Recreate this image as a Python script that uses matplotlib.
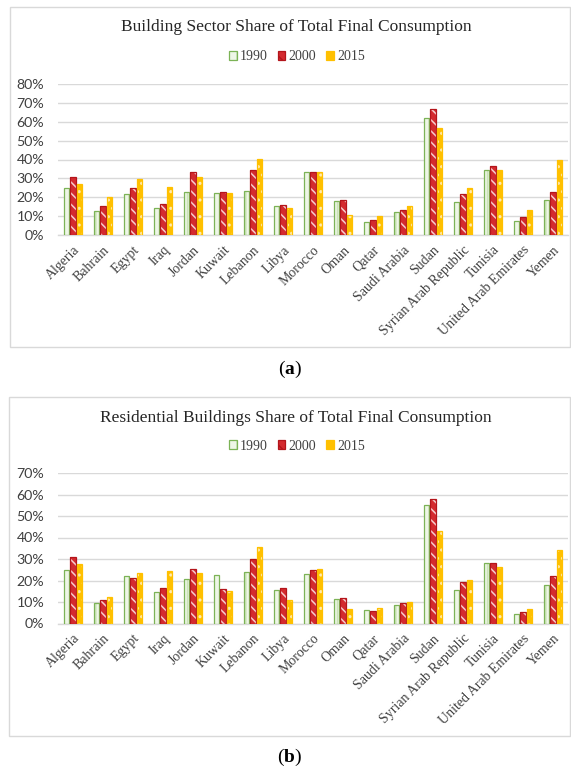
import matplotlib
matplotlib.use("Agg")
import matplotlib.pyplot as plt
from matplotlib.patches import Rectangle, Patch
from matplotlib.ticker import PercentFormatter
import numpy as np

countries = ["Algeria", "Bahrain", "Egypt", "Iraq", "Jordan", "Kuwait", "Lebanon",
             "Libya", "Morocco", "Oman", "Qatar", "Saudi Arabia", "Sudan",
             "Syrian Arab Republic", "Tunisia", "United Arab Emirates", "Yemen"]
years = ["1990", "2000", "2015"]

# Building sector share of total final consumption (%)
building_1990 = [24.7, 12.9, 21.7, 14.1, 22.6, 22.3, 23.5, 15.4, 33.6, 18.0, 7.1, 12.2, 62.0, 17.7, 34.5, 7.6, 18.6]
building_2000 = [30.6, 15.4, 25.1, 16.4, 33.2, 22.6, 34.3, 16.1, 33.5, 18.6, 8.0, 13.3, 67.0, 21.9, 36.7, 9.7, 22.6]
building_2015 = [27.2, 20.3, 29.9, 25.3, 30.7, 22.3, 40.3, 14.1, 33.6, 10.8, 10.1, 15.5, 56.7, 24.9, 34.6, 13.1, 39.8]

# Residential buildings share of total final consumption (%)
resid_1990 = [24.9, 9.7, 21.9, 14.7, 20.7, 22.6, 24.1, 15.6, 22.9, 11.6, 6.3, 8.7, 54.9, 15.4, 28.3, 4.3, 18.1]
resid_2000 = [31.1, 10.8, 21.3, 16.7, 25.2, 15.9, 30.0, 16.3, 24.7, 12.0, 5.8, 9.5, 57.7, 19.4, 28.3, 5.5, 22.3]
resid_2015 = [27.5, 12.2, 23.6, 24.4, 23.6, 15.0, 35.5, 11.0, 25.5, 6.7, 7.2, 9.9, 43.0, 20.3, 26.4, 6.7, 34.2]

serif = "Liberation Serif"
sans = "Lato"

plt.rcParams["hatch.linewidth"] = 1.1
plt.rcParams["mathtext.fontset"] = "custom"
plt.rcParams["mathtext.rm"] = serif
plt.rcParams["mathtext.bf"] = serif + ":bold"

styles = [
    dict(face="#eef6e7", edge="#7cb356", hatch="||", hatch_col="#cbe4b8"),
    dict(face="#d42a2f", edge="#b3151b", hatch="\\\\\\", hatch_col="#f6d0d0"),
    dict(face="#ffc000", edge="#ffc000", hatch="..", hatch_col="#ffeab0"),
]

W, H = 571, 771
fig = plt.figure(figsize=(W / 100, H / 100), dpi=100)


def px_box(x0, y0, x1, y1):
    return [x0 / W, 1 - y1 / H, (x1 - x0) / W, (y1 - y0) / H]


def draw_panel(ax_rect, frame, series, ymax, title, title_y, legend_cx, legend_y, tag, tag_y):
    fx0, fy0, fx1, fy1 = frame
    fig.patches.append(Rectangle((fx0 / W, 1 - fy1 / H), (fx1 - fx0) / W, (fy1 - fy0) / H,
                                 transform=fig.transFigure, fill=False,
                                 edgecolor="#d9d9d9", linewidth=1.0))
    ax = fig.add_axes(ax_rect)
    x = np.arange(len(countries))
    bw = 0.19
    step = 0.215
    for i, (vals, st) in enumerate(zip(series, styles)):
        pos = x + (i - 1) * step
        ax.bar(pos, vals, width=bw, color=st["face"], edgecolor=st["hatch_col"],
               hatch=st["hatch"], linewidth=0, zorder=3)
        ax.bar(pos, vals, width=bw, fill=False, edgecolor=st["edge"],
               linewidth=0.9, zorder=4)
    ax.set_xlim(-0.5, len(countries) - 0.5)
    ax.set_ylim(0, ymax)
    ax.set_yticks(np.arange(0, ymax + 1, 10))
    ax.yaxis.set_major_formatter(PercentFormatter(decimals=0))
    ax.grid(axis="y", color="#d9d9d9", linewidth=1.0, zorder=0)
    ax.set_axisbelow(True)
    for s in ["top", "right", "left"]:
        ax.spines[s].set_visible(False)
    ax.spines["bottom"].set_color("#d9d9d9")
    ax.spines["bottom"].set_linewidth(1.0)
    ax.tick_params(axis="both", length=0)
    ax.tick_params(axis="y", labelsize=10.2, labelcolor="#404040", pad=10)
    for lab in ax.get_yticklabels():
        lab.set_fontfamily(sans)
    ax.set_xticks(x)
    ax.set_xticklabels(countries, rotation=45, ha="right", va="top",
                       rotation_mode="anchor", fontfamily=serif, fontsize=10,
                       color="#404040")
    ax.tick_params(axis="x", pad=6)

    fig.text(296 / W, 1 - title_y / H, title, ha="center", va="center",
             fontfamily=serif, fontsize=12.5, color="#262626")
    handles = [Patch(facecolor=st["face"], edgecolor=st["edge"], hatch=st["hatch"],
                     linewidth=0.9) for st in styles]
    leg = fig.legend(handles, years, loc="center", bbox_to_anchor=(legend_cx / W, 1 - legend_y / H),
                     ncol=3, frameon=False, handlelength=0.55, handleheight=0.55,
                     handletextpad=0.25, columnspacing=0.7,
                     prop=dict(family=serif, size=10))
    for t in leg.get_texts():
        t.set_color("#404040")
    fig.text(290 / W, 1 - tag_y / H, r"($\mathbf{" + tag + "}$)", ha="center", va="center",
             fontfamily=serif, fontsize=14)
    return ax


draw_panel(px_box(58, 84, 568, 235), (10, 7, 570, 347),
           [building_1990, building_2000, building_2015], 80,
           "Building Sector Share of Total Final Consumption", 27, 297, 57, "a", 369)
draw_panel(px_box(58, 473, 568, 623.5), (9, 397, 570, 736),
           [resid_1990, resid_2000, resid_2015], 70,
           "Residential Buildings Share of Total Final Consumption", 418, 297, 446, "b", 757)

fig.savefig("out.png", dpi=100)
